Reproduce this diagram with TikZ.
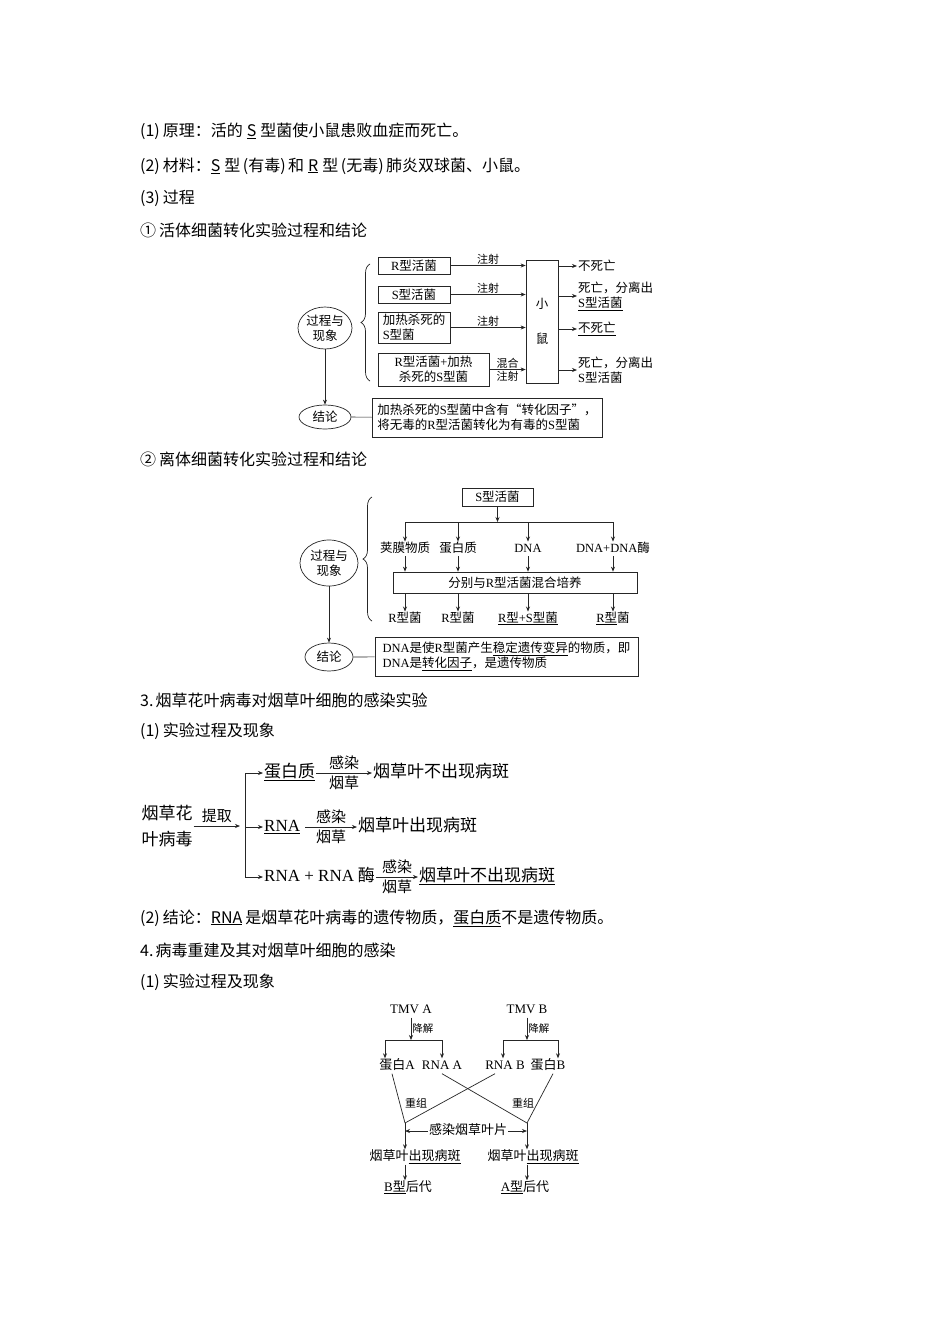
\documentclass[tikz,border=0pt]{standalone}
\usepackage{fontspec}
\setmainfont{Noto Sans CJK SC}
\newfontfamily\la{Liberation Serif}
\usetikzlibrary{arrows.meta,decorations.pathreplacing,shapes.geometric}
\tikzset{
  ln/.style={line width=0.7pt, draw=black!85},
  arr/.style={ln, -{Stealth[length=5pt,width=4pt]}},
  body/.style={anchor=west, inner sep=0pt, font=\fontsize{16}{20}\selectfont},
  fa/.style={font=\fontsize{12.5}{15}\selectfont},
  fal/.style={inner sep=1pt, fa, text height=9.5pt, text depth=3pt},
  bx/.style={draw=black!85, line width=0.7pt, inner sep=1pt, fa},
  ov/.style={draw=black!85, line width=0.7pt, ellipse, inner sep=0pt, fa, align=center},
  tagl/.style={inner sep=1pt, font=\fontsize{11}{12}\selectfont},
  brc/.style={ln, decorate, decoration={brace, amplitude=9pt}},
  t3/.style={inner sep=1pt, font=\fontsize{17}{20}\selectfont, text height=13pt, text depth=4pt},
  t3s/.style={inner sep=1pt, font=\fontsize{15}{17}\selectfont},
  t4/.style={inner sep=1pt, font=\fontsize{13}{15}\selectfont, text height=10pt, text depth=3pt},
  t4s/.style={inner sep=1pt, font=\fontsize{10.5}{12}\selectfont},
}
\newcommand\pl{\hspace{2.5pt}(}
\newcommand\pr{)\hspace{2.5pt}}
\begin{document}
\begin{tikzpicture}[x=1pt,y=-1pt]
\useasboundingbox[fill=white] (0,0) rectangle (950,1344);

% ---------------- body text ----------------
\node[body] (l1) at (140,131) {(1)\hspace{3pt}原理：活的\hspace{4pt}\underline{S}\hspace{4pt}型菌使小鼠患败血症而死亡。};
\node[body] (l2) at (140,166) {(2)\hspace{3pt}材料：\underline{S}\hspace{4pt}型\pl 有毒\pr 和\hspace{4pt}\underline{R}\hspace{4pt}型\pl 无毒\pr 肺炎双球菌、小鼠。};
\node[body] (l3) at (140,198) {(3)\hspace{3pt}过程};
\node[body] (l4) at (140,230) {①\hspace{3pt}活体细菌转化实验过程和结论};
\node[body] (l5) at (140,459) {②\hspace{3pt}离体细菌转化实验过程和结论};
\node[body] (l6) at (140,700) {3.\hspace{2pt}烟草花叶病毒对烟草叶细胞的感染实验};
\node[body] (l7) at (140,731) {(1)\hspace{3pt}实验过程及现象};
\node[body] (l8) at (140,918) {(2)\hspace{3pt}结论：\underline{RNA}\hspace{3pt}是烟草花叶病毒的遗传物质，\underline{蛋白质}不是遗传物质。};
\node[body] (l9) at (140,950) {4.\hspace{2pt}病毒重建及其对烟草叶细胞的感染};
\node[body] (l10) at (140,982) {(1)\hspace{3pt}实验过程及现象};

% ---------------- diagram 1 ----------------
\node[bx, minimum width=72, minimum height=17] (b1) at (414,265.5) {{\la R}型活菌};
\node[bx, minimum width=72, minimum height=17] (b2) at (414,294.5) {{\la S}型活菌};
\node[bx, minimum width=72, minimum height=31, align=left] (b3) at (414,327.5) {加热杀死的\\{\la S}型菌};
\node[bx, minimum width=111, minimum height=33, align=center] (b4) at (433.5,369.5) {{\la R}型活菌{\la +}加热\\杀死的{\la S}型菌};
\node[bx, minimum width=32, minimum height=123, align=center, font=\fontsize{12.5}{35}\selectfont] (ms) at (542,321.5) {小\\鼠};
\draw[arr] (b1.east) -- (b1.east -| ms.west) node[midway, above, tagl] {注射};
\draw[arr] (b2.east) -- (b2.east -| ms.west) node[midway, above, tagl] {注射};
\draw[arr] (b3.east) -- (b3.east -| ms.west) node[midway, above, tagl] {注射};
\draw[arr] (b4.east) -- (b4.east -| ms.west) node[midway, above, tagl] {混合} node[midway, below, tagl] {注射};

\node[anchor=west, inner sep=1pt, fa] (o1) at (577,266) {不死亡};
\node[anchor=west, inner sep=1pt, fa, align=left] (o2) at (577,296) {死亡，分离出\\\underline{{\la S}型活菌}};
\node[anchor=west, inner sep=1pt, fa] (o3) at (577,329) {\underline{不死亡}};
\node[anchor=west, inner sep=1pt, fa, align=left] (o4) at (577,370) {死亡，分离出\\{\la S}型活菌};
\draw[arr] (ms.east |- o1.west) -- (o1.west);
\draw[arr] (ms.east |- o2.west) -- (o2.west);
\draw[arr] (ms.east |- o3.west) -- (o3.west);
\draw[arr] (ms.east |- o4.west) -- (o4.west);

\draw[brc] (370,381) -- (370,264);
\node[ov, minimum width=54, minimum height=42] (p1) at (325,328) {过程与\\现象};
\node[ov, minimum width=52, minimum height=24] (c1) at (325,417) {结论};
\draw[arr] (p1) -- (c1);
\node[bx, minimum width=230, minimum height=39, align=left] (k1) at (487,417.5) {加热杀死的{\la S}型菌中含有“转化因子”，\\将无毒的{\la R}型活菌转化为有毒的{\la S}型菌};
\draw[ln] (c1) -- (k1);

% ---------------- diagram 2 ----------------
\node[bx, minimum width=71, minimum height=18] (s2) at (497.5,497) {{\la S}型活菌};
\coordinate (j2) at (497.5,522);
\draw[arr] (s2.south) -- (j2);
\node[fal] (m1) at (405,549) {荚膜物质};
\node[fal] (m2) at (458,549) {蛋白质};
\node[fal] (m3) at (528,549) {\la DNA};
\node[fal] (m4) at (613,549) {{\la DNA+DNA}酶};
\draw[ln] (m1 |- j2) -- (m4 |- j2);
\node[bx, minimum width=244, minimum height=21] (mb) at (515,582.5) {分别与{\la R}型活菌混合培养};
\node[fal] (n1) at (405,619) {{\la R}型菌};
\node[fal] (n2) at (458,619) {{\la R}型菌};
\node[fal] (n3) at (528,619) {\underline{{\la R}型{\la +S}型菌}};
\node[fal] (n4) at (613,619) {\underline{{\la R}型}菌};
\foreach \m/\n in {m1/n1,m2/n2,m3/n3,m4/n4}{
  \draw[arr] (\m |- j2) -- (\m.north);
  \draw[arr] (\m.south) -- (\m.south |- mb.north);
  \draw[arr] (mb.south -| \n) -- (\n.north);
}
\draw[brc] (372,621) -- (372,497);
\node[ov, minimum width=58, minimum height=46] (p2) at (329,563) {过程与\\现象};
\node[ov, minimum width=48, minimum height=28] (c2) at (329,657) {结论};
\draw[arr] (p2) -- (c2);
\node[bx, minimum width=263, minimum height=39, align=left] (k2) at (506.5,656.5) {{\la DNA}是使{\la R}型菌产生\underline{稳定遗传变异}的物质，即\\{\la DNA}是\underline{转化因子}，是遗传物质};
\draw[ln] (c2) -- (k2);

% ---------------- diagram 3 ----------------
\node[inner sep=1pt, align=center, font=\fontsize{17}{26}\selectfont] (v1) at (167,826) {烟草花\\叶病毒};
\coordinate (q1) at (240,826);
\draw[arr] (v1.east) -- (q1) node[midway, above=2pt, t3s] {提取};
\coordinate (vt) at (245,773);
\coordinate (vm) at (245,827);
\coordinate (vb) at (245,877);
\draw[ln] (vt) -- (vb);
\node[t3, anchor=west] (r1) at (263,773) {\underline{蛋白质}};
\node[t3, anchor=west] (r2) at (263,827) {\underline{\la RNA}};
\node[t3, anchor=west] (r3) at (263,877) {{\la RNA + RNA} 酶};
\draw[arr] (vt) -- (r1.west);
\draw[arr] (vm) -- (r2.west);
\draw[arr] (vb) -- (r3.west);
\node[t3, anchor=west] (i1) at (372,773) {烟草叶不出现病斑};
\node[t3, anchor=west] (i2) at (357,827) {烟草叶出现病斑};
\node[t3, anchor=west] (i3) at (418,877) {\underline{烟草叶不出现病斑}};
\draw[arr] (r1.east) -- (i1.west) node[midway, above=2pt, t3s] {感染} node[midway, below=2pt, t3s] {烟草};
\draw[arr] ([xshift=4pt]r2.east) -- (i2.west) node[midway, above=2pt, t3s] {感染} node[midway, below=2pt, t3s] {烟草};
\draw[arr] (r3.east) -- (i3.west) node[midway, above=2pt, t3s] {感染} node[midway, below=2pt, t3s] {烟草};

% ---------------- diagram 4 ----------------
\node[t4] (ta) at (411,1010) {\la TMV A};
\node[t4] (tb) at (527,1010) {\la TMV B};
\coordinate (ja) at (411,1040);
\coordinate (jb) at (527,1040);
\draw[arr] (ta.south) -- (ja) node[midway, right, t4s] {降解};
\draw[arr] (tb.south) -- (jb) node[midway, right, t4s] {降解};
\coordinate (aL) at (385,1040);
\coordinate (aR) at (442,1040);
\coordinate (bL) at (503,1040);
\coordinate (bR) at (558,1040);
\draw[ln] (aL) -- (aR);
\draw[ln] (bL) -- (bR);
\node[t4] (pa) at (397,1066) {蛋白{\la A}};
\node[t4] (ra) at (442,1066) {\la RNA A};
\node[t4] (rb) at (505,1066) {\la RNA B};
\node[t4] (pb) at (548,1066) {蛋白{\la B}};
\draw[arr] (aL) -- (aL |- pa.north);
\draw[arr] (aR) -- (aR |- ra.north);
\draw[arr] (bL) -- (bL |- rb.north);
\draw[arr] (bR) -- (bR |- pb.north);
\coordinate (xa) at (405,1123);
\coordinate (xb) at (527,1123);
\draw[ln] ([xshift=-5pt]pa.south) -- (xa);
\draw[ln] ([xshift=-10pt]rb.south) -- (xa);
\draw[ln] (ra.south) -- (xb);
\draw[ln] ([xshift=5pt]pb.south) -- (xb);
\node[inner sep=1pt, font=\fontsize{11}{12}\selectfont] (z1) at (416,1103) {重组};
\node[inner sep=1pt, font=\fontsize{11}{12}\selectfont] (z2) at (523,1103) {重组};
\node[t4] (ga) at (415,1157) {烟草叶\underline{出现病斑}};
\node[t4] (gb) at (533,1157) {烟草叶\underline{出现病斑}};
\draw[arr] (xa) -- (xa |- ga.north);
\draw[arr] (xb) -- (xb |- gb.north);
\node[t4] (gi) at (468,1131) {感染烟草叶片};
\draw[arr] (gi.west) -- (gi.west -| xa);
\draw[arr] (gi.east) -- (gi.east -| xb);
\node[t4] (oa) at (408,1188) {\underline{{\la B}型}后代};
\node[t4] (ob) at (525,1188) {\underline{{\la A}型}后代};
\draw[arr] (ga.south -| xa) -- (oa.north -| xa);
\draw[arr] (gb.south -| xb) -- (ob.north -| xb);
\end{tikzpicture}
\end{document}
